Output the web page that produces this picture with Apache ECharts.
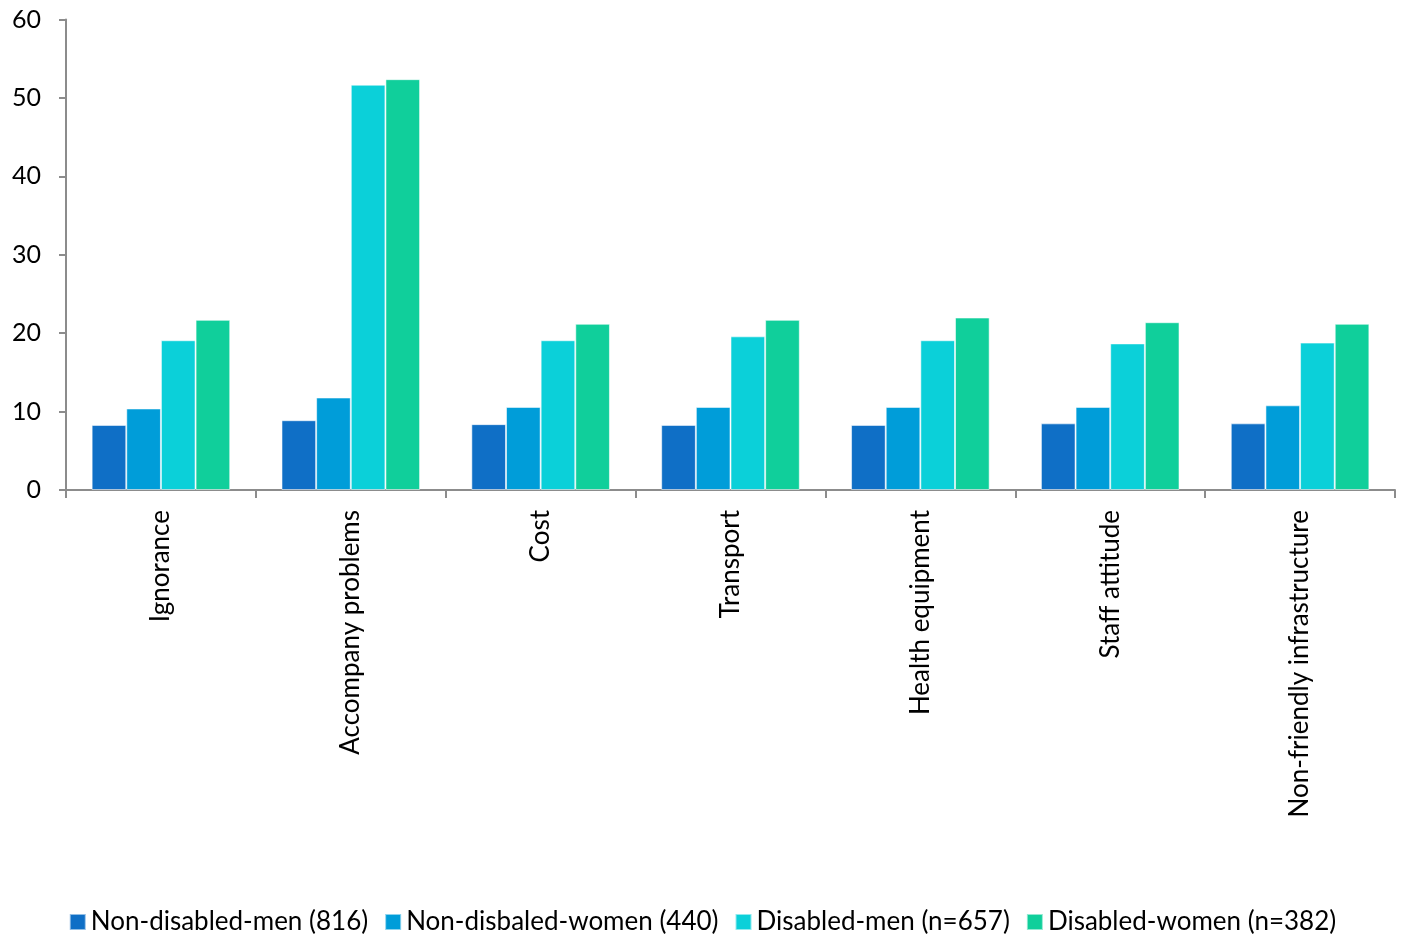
<!DOCTYPE html>
<html>
<head>
<meta charset="utf-8">
<script src="https://cdn.jsdelivr.net/npm/echarts@6/dist/echarts.min.js"></script>
<style>
  html, body { margin: 0; padding: 0; background: #ffffff; }
  #chart { width: 1405px; height: 937px; }
</style>
</head>
<body>
<div id="chart"></div>
<script>
// Barriers to healthcare access, percent of respondents per group
const categories = ['Ignorance', 'Accompany problems', 'Cost', 'Transport', 'Health equipment', 'Staff attitude', 'Non-friendly infrastructure'];
const seriesNames = ['Non-disabled-men (816)', 'Non-disbaled-women (440)', 'Disabled-men (n=657)', 'Disabled-women (n=382)'];
const nonDisabledMen   = [8.3, 8.9, 8.4, 8.3, 8.3, 8.5, 8.5];
const nonDisabledWomen = [10.4, 11.8, 10.6, 10.6, 10.6, 10.6, 10.8];
const disabledMen      = [19.1, 51.7, 19.1, 19.6, 19.1, 18.7, 18.8];
const disabledWomen    = [21.7, 52.4, 21.2, 21.7, 22.0, 21.4, 21.2];
const yTicks = [0, 10, 20, 30, 40, 50, 60];

const colors = ['#0F6FC6', '#009DD9', '#0BD0D9', '#10CF9B'];
const values = [nonDisabledMen, nonDisabledWomen, disabledMen, disabledWomen];
const font = 'Lato, "Liberation Sans", sans-serif';
const axisGray = '#8c8c8c';

const chart = echarts.init(document.getElementById('chart'), null, { renderer: 'canvas' });
chart.setOption({
  animation: false,
  color: colors,
  grid: { left: 66, right: 10, top: 19.6, bottom: 447, containLabel: false },
  legend: {
    bottom: -3,
    left: 'center',
    itemWidth: 16,
    itemHeight: 16,
    itemGap: 16,
    icon: 'rect',
    textStyle: { fontFamily: font, fontSize: 26, color: '#000' },
    data: seriesNames
  },
  xAxis: {
    type: 'category',
    data: categories,
    axisLine: { lineStyle: { color: axisGray, width: 2 } },
    axisTick: { show: true, alignWithLabel: false, length: 8, lineStyle: { color: axisGray, width: 2 } },
    axisLabel: { rotate: 90, interval: 0, fontFamily: font, fontSize: 26, color: '#000', margin: 20 }
  },
  yAxis: {
    type: 'value',
    min: yTicks[0],
    max: yTicks[yTicks.length - 1],
    interval: 10,
    splitLine: { show: false },
    axisLine: { show: true, lineStyle: { color: axisGray, width: 2 } },
    axisTick: { show: true, length: 7, lineStyle: { color: axisGray, width: 2 } },
    axisLabel: { fontFamily: font, fontSize: 25, color: '#000', margin: 25 }
  },
  series: seriesNames.map((name, i) => ({
    name: name,
    type: 'bar',
    data: values[i],
    barGap: '0%',
    barCategoryGap: '27%',
    itemStyle: { color: colors[i], borderColor: 'rgba(255,255,255,0.55)', borderWidth: 1 }
  }))
});
</script>
</body>
</html>
